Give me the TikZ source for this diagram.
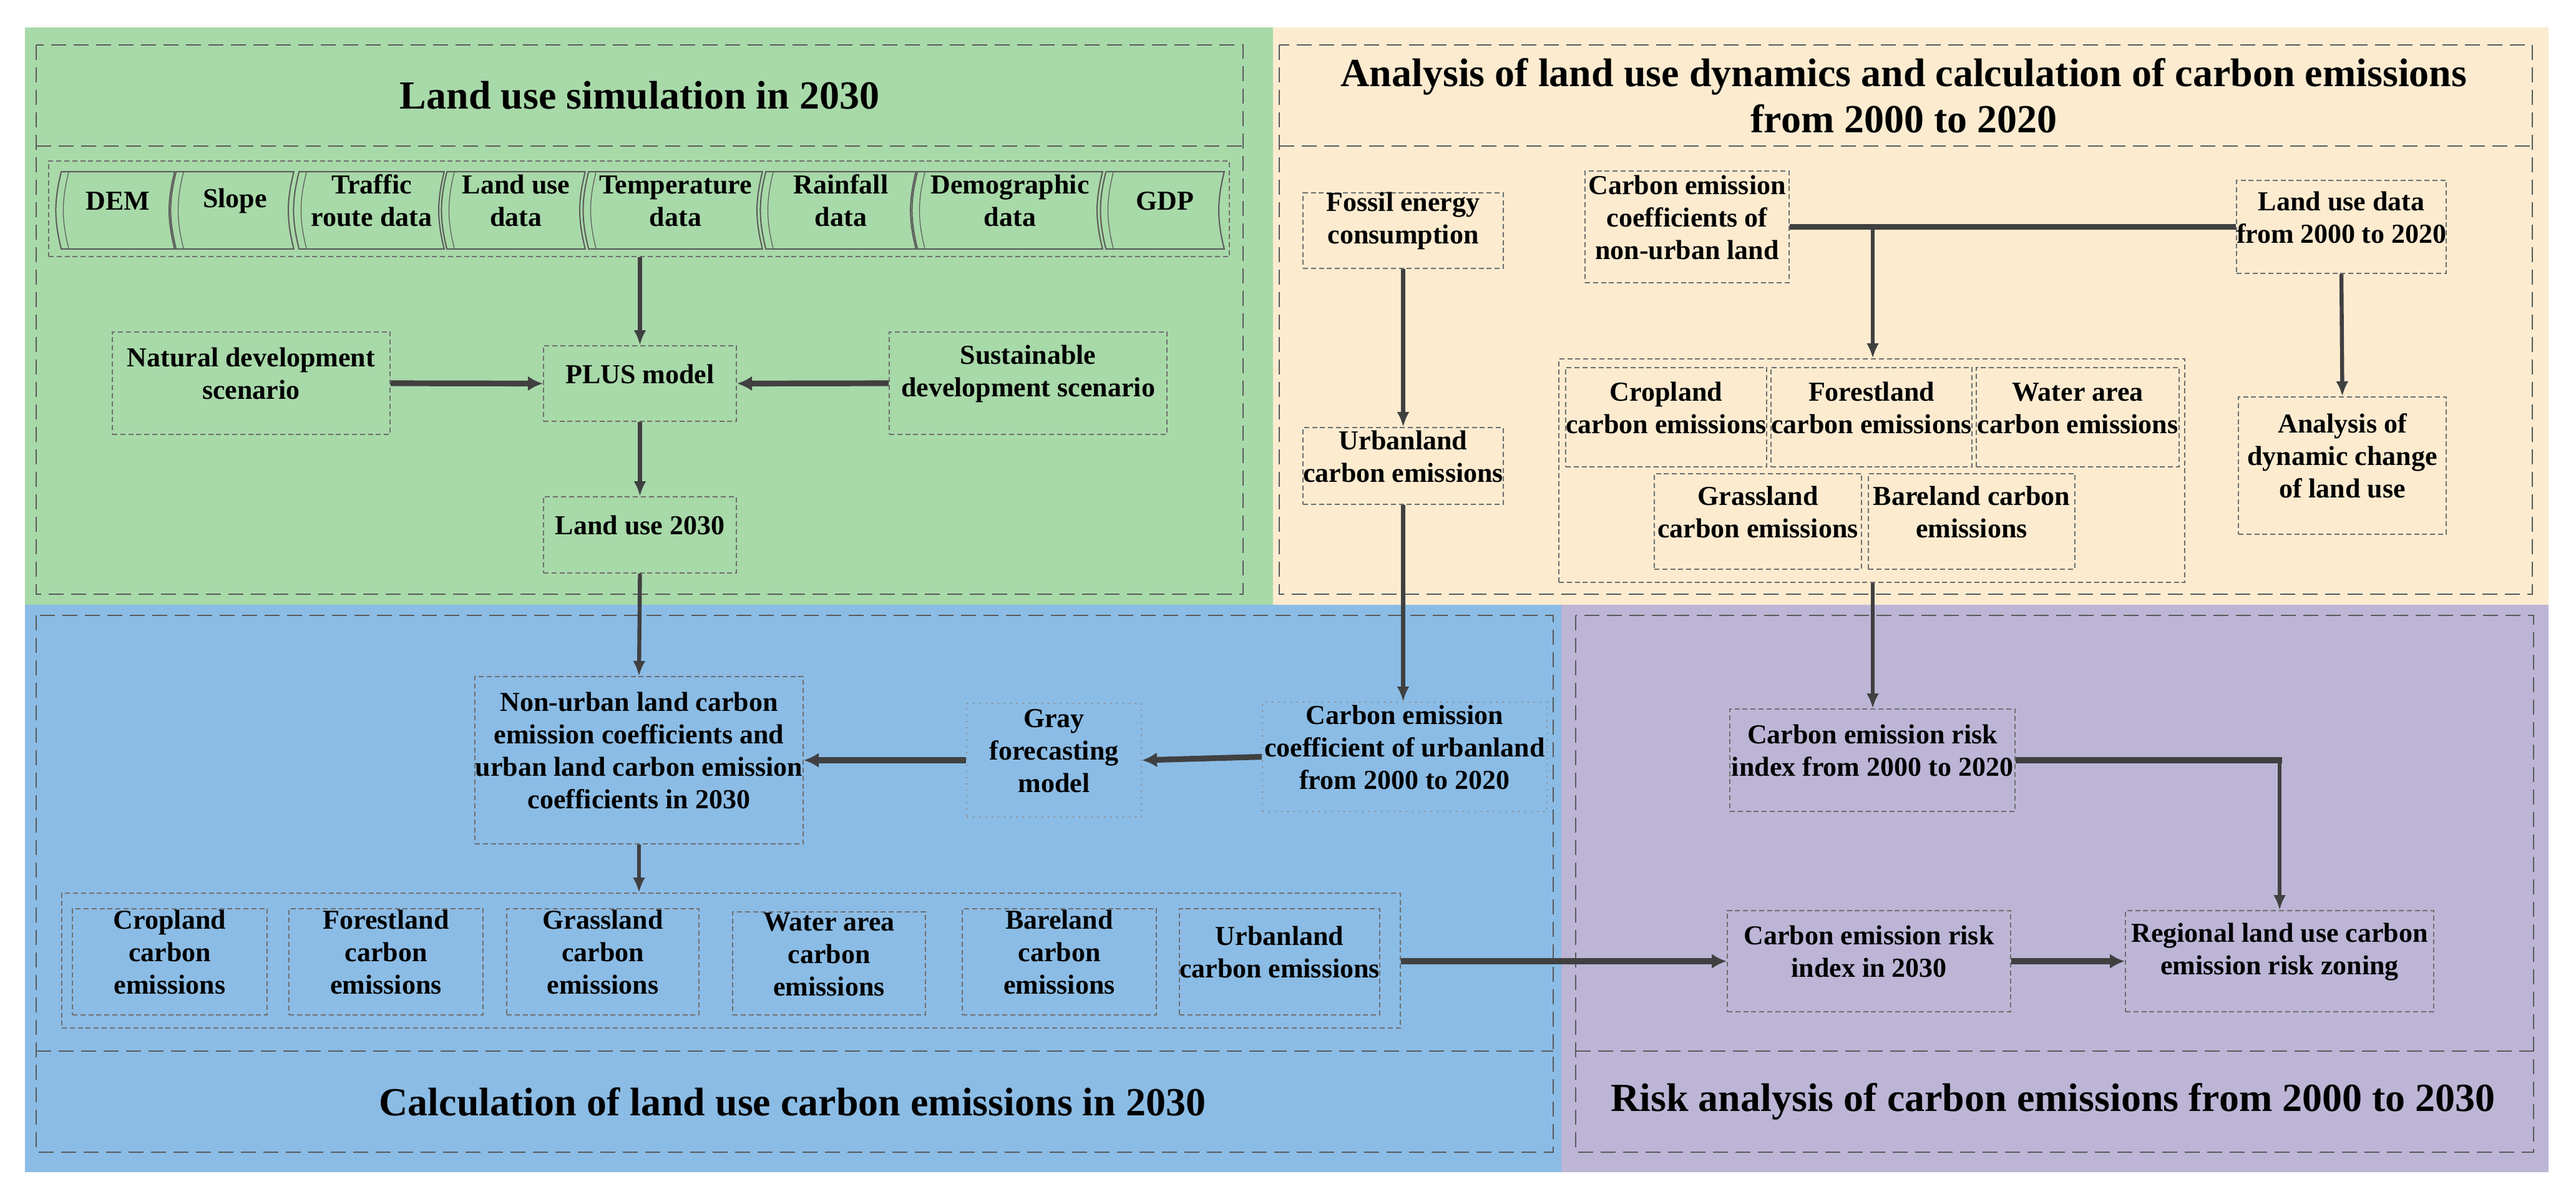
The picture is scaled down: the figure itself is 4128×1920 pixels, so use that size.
\documentclass[tikz,border=0pt]{standalone}
\usepackage{fontspec}
\setmainfont{Liberation Serif}
\usetikzlibrary{fit,arrows.meta}
\definecolor{grn}{HTML}{A8D9A9}
\definecolor{bei}{HTML}{FDEBD0}
\definecolor{blu}{HTML}{8BBCE5}
\definecolor{pur}{HTML}{BDB5D6}
\definecolor{lnc}{HTML}{404040}
\definecolor{frc}{HTML}{5A5A5A}
\definecolor{bxc}{HTML}{6E6E6E}
\tikzset{
  frame/.style={draw=frc,line width=0.7pt,dash pattern=on 6pt off 3pt},
  bx/.style={draw=bxc,line width=0.5pt,dash pattern=on 2pt off 1.2pt,inner sep=0pt,align=center},
  dbx/.style={draw=bxc!80,line width=0.5pt,dotted,inner sep=0pt,align=center},
  cell/.style={inner sep=0pt,align=center},
  ttl/.style={font=\fontsize{16}{18.5}\selectfont\bfseries,align=center},
  arr/.style={draw=lnc,line width=1.6pt,-{Latex[length=6pt,width=5pt]}},
  tarr/.style={draw=lnc,line width=2.3pt,-{Latex[length=6pt,width=6pt]}},
  tline/.style={draw=lnc,line width=2.3pt},
}
\newcommand\mkbox[7]{\node[#7,fit={(#2,#3) (#4,#5)}] (#1) {#6};}
\begin{document}
\begin{tikzpicture}[x=0.25pt,y=-0.25pt,font=\fontsize{11}{13}\selectfont\bfseries]
\useasboundingbox (0,0) rectangle (4128,1920);
% panels
\fill[grn] (40,44) rectangle (2040,969);
\fill[bei] (2040,44) rectangle (4084,969);
\fill[blu] (40,969) rectangle (2502,1878);
\fill[pur] (2502,969) rectangle (4084,1878);
% frames
\draw[frame] (58,72) rectangle (1992,952); \draw[frame] (58,234)--(1992,234);
\draw[frame] (2050,72) rectangle (4058,952); \draw[frame] (2050,234)--(4058,234);
\draw[frame] (58,986) rectangle (2489,1846); \draw[frame] (58,1684)--(2489,1684);
\draw[frame] (2525,986) rectangle (4060,1846); \draw[frame] (2525,1684)--(4060,1684);
% titles
\node[ttl] (t1) at (1025,153) {Land use simulation in 2030};
\node[ttl] (t2) at (3051,153) {Analysis of land use dynamics and calculation of carbon emissions\\from 2000 to 2020};
\node[ttl] (t3) at (1270,1765) {Calculation of land use carbon emissions in 2030};
\node[ttl] (t4) at (3290,1765) {Risk analysis of carbon emissions from 2000 to 2030};
% data row
\mkbox{dc}{78}{258}{1970}{411}{}{bx}
\foreach \n/\a/\b/\t in {d1/99/279/DEM, d2/283/470/Slope, d3/480/711/{Traffic\\route data}, d4/717/937/{Land use\\data}, d5/944/1221/{Temperature\\data}, d6/1228/1467/{Rainfall\\data}, d7/1471/1766/{Demographic\\data}, d8/1773/1961/GDP}{
  \mkbox{\n}{\a}{276}{\b}{398}{\t}{cell}
  \draw[draw=frc,line width=0.5pt] (\n.north west) to[bend right=14] (\n.south west) -- (\n.south east) to[bend left=14] (\n.north east) -- cycle;
  \draw[draw=frc,line width=0.3pt] ([xshift=3pt]\n.north west) to[bend right=14] ([xshift=3pt]\n.south west);
}
\mkbox{nat}{180}{532}{625}{696}{Natural development\\scenario}{bx}
\mkbox{plus}{871}{554}{1180}{675}{PLUS model}{bx}
\mkbox{sus}{1425}{532}{1870}{696}{Sustainable\\development scenario}{bx}
\mkbox{lu}{871}{796}{1180}{918}{Land use 2030}{bx}
% beige
\mkbox{fos}{2088}{309}{2409}{430}{Fossil energy\\consumption}{bx}
\mkbox{coef}{2540}{274}{2867}{453}{Carbon emission\\coefficients of\\non-urban land}{bx}
\mkbox{lud}{3584}{289}{3920}{438}{Land use data\\from 2000 to 2020}{bx}
\mkbox{ana}{3587}{636}{3920}{856}{Analysis of\\dynamic change\\of land use}{bx}
\mkbox{urb}{2088}{685}{2409}{808}{Urbanland\\carbon emissions}{bx}
\mkbox{ctn}{2498}{575}{3501}{933}{}{bx}
\mkbox{e1}{2509}{589}{2831}{748}{Cropland\\carbon emissions}{bx}
\mkbox{e2}{2838}{589}{3160}{748}{Forestland\\carbon emissions}{bx}
\mkbox{e3}{3167}{589}{3492}{748}{Water area\\carbon emissions}{bx}
\mkbox{e4}{2651}{759}{2983}{912}{Grassland\\carbon emissions}{bx}
\mkbox{e5}{2994}{759}{3325}{912}{Bareland carbon\\emissions}{bx}
% blue
\mkbox{nu}{761}{1084}{1287}{1352}{Non-urban land carbon\\emission coefficients and\\urban land carbon emission\\coefficients in 2030}{bx}
\mkbox{gray}{1549}{1127}{1829}{1309}{Gray\\forecasting\\model}{dbx}
\mkbox{cu}{2023}{1125}{2479}{1300}{Carbon emission\\coefficient of urbanland\\from 2000 to 2020}{dbx}
\mkbox{bc}{99}{1431}{2244}{1647}{}{bx}
\mkbox{c1}{116}{1456}{428}{1626}{Cropland\\carbon\\emissions}{bx}
\mkbox{c2}{463}{1456}{774}{1626}{Forestland\\carbon\\emissions}{bx}
\mkbox{c3}{812}{1456}{1120}{1626}{Grassland\\carbon\\emissions}{bx}
\mkbox{c4}{1174}{1461}{1483}{1626}{Water area\\carbon\\emissions}{bx}
\mkbox{c5}{1542}{1456}{1853}{1626}{Bareland\\carbon\\emissions}{bx}
\mkbox{c6}{1890}{1456}{2211}{1626}{Urbanland\\carbon emissions}{bx}
% purple
\mkbox{r1}{2772}{1136}{3229}{1300}{Carbon emission risk\\index from 2000 to 2020}{bx}
\mkbox{r2}{2768}{1459}{3222}{1621}{Carbon emission risk\\index in 2030}{bx}
\mkbox{reg}{3406}{1459}{3900}{1621}{Regional land use carbon\\emission risk zoning}{bx}
% connectors
\draw[arr] (plus.north |- dc.south) -- (plus.north);
\draw[tarr] (nat.east) -- (plus.west);
\draw[tarr] (sus.west) -- (plus.east);
\draw[arr] (plus.south) -- (lu.north);
\draw[arr] (lu.south) -- (nu.north);
\draw[arr] (nu.south) -- (nu.south |- bc.north);
\draw[arr] (fos.south) -- (urb.north);
\draw[arr] (urb.south) -- (urb.south |- cu.north);
\coordinate (br) at (3001,363);
\draw[tline] (coef.east) -- (lud.west);
\draw[arr] (br) -- (br |- ctn.north);
\draw[arr] (lud.south) -- (ana.north);
\draw[arr] (ctn.south -| br) -- (br |- r1.north);
\draw[tarr] (cu.west) -- (gray.east);
\draw[tarr] (gray.west) -- (nu.east);
\draw[tarr] (bc.east |- r2.west) -- (r2.west);
\draw[tarr] (r2.east) -- (reg.west);
\coordinate (cr) at (reg.north |- r1.east);
\draw[tline] (r1.east) -- ([xshift=1pt]cr);
\draw[arr] (cr) -- (reg.north);
\end{tikzpicture}
\end{document}
